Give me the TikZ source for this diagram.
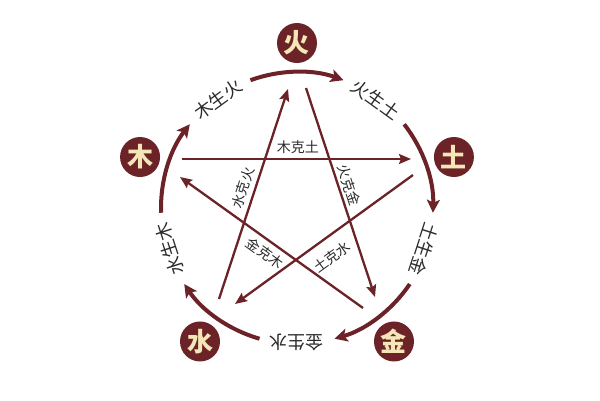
\documentclass[tikz,border=0pt]{standalone}
\usepackage{fontspec}
\newfontfamily\cjk{Noto Sans CJK SC}
\usetikzlibrary{arrows.meta}
\definecolor{wxred}{HTML}{6B2328}
\definecolor{wxcream}{HTML}{F5E6B8}
\definecolor{wxtxt}{HTML}{2B2B2B}
\begin{document}
\begin{tikzpicture}[x=1pt,y=1pt,
  elem/.style={circle,fill=wxred,minimum size=40pt,inner sep=0pt,text=wxcream,font=\cjk\bfseries\fontsize{26}{26}\selectfont},
  genlabel/.style={text=wxtxt,font=\cjk\fontsize{18}{18}\selectfont,inner sep=0pt},
  kelabel/.style={text=wxtxt,font=\cjk\fontsize{14}{14}\selectfont,inner sep=0pt},
  genarrow/.style={draw=wxred,line width=4pt,-{Stealth[length=13pt,width=13pt,inset=3pt]}},
  kearrow/.style={draw=wxred,line width=2.3pt,-{Stealth[length=12pt,width=10pt,inset=2pt]}}]
\useasboundingbox[fill=white] (-297,-192) rectangle (303,208);

% element nodes
\node[elem] (huo) at (90:165) {火};
\node[elem] (mu) at (162:165) {木};
\node[elem] (tu) at (18:165) {土};
\node[elem] (jin) at (-54:165) {金};
\node[elem] (shui) at (-126:165) {水};

% generating cycle labels
\node[genlabel,rotate=36] (lmh) at (126:134) {木生火};
\node[genlabel,rotate=-36] (lht) at (54:134) {火生土};
\node[genlabel,rotate=-108] (ltj) at (-18:134) {土生金};
\node[genlabel,rotate=180] (ljs) at (-90:134) {金生水};
\node[genlabel,rotate=108] (lsm) at (-162:134) {水生木};

% generating arcs
\coordinate (a1) at (182:136);
\coordinate (a2) at (110:136);
\coordinate (a3) at (38:136);
\coordinate (a4) at (-34:136);
\coordinate (a5) at (-106:136);
\draw[genarrow] (a1) arc[start angle=182,end angle=142,radius=136pt];
\draw[genarrow] (a2) arc[start angle=110,end angle=70,radius=136pt];
\draw[genarrow] (a3) arc[start angle=38,end angle=-2,radius=136pt];
\draw[genarrow] (a4) arc[start angle=-34,end angle=-74,radius=136pt];
\draw[genarrow] (a5) arc[start angle=-106,end angle=-146,radius=136pt];

% controlling star
\coordinate (s1) at (-78,-91);  \coordinate (t1) at (-9,119);
\coordinate (s2) at (9,120);    \coordinate (t2) at (78,-89);
\coordinate (s3) at (-115,49);  \coordinate (t3) at (114,49);
\coordinate (s4) at (116,33);   \coordinate (t4) at (-62,-96);
\coordinate (s5) at (66,-100);  \coordinate (t5) at (-117,31);
\draw[kearrow] (s1) -- (t1);
\draw[kearrow] (s2) -- (t2);
\draw[kearrow] (s3) -- (t3);
\draw[kearrow] (s4) -- (t4);
\draw[kearrow] (s5) -- (t5);

\node[kelabel,rotate=72] (kshui) at (-54,20) {水克火};
\node[kelabel,rotate=-72] (khuo) at (52,23) {火克金};
\node[kelabel] (kmu) at (1,61) {木克土};
\node[kelabel,rotate=36] (ktu) at (35,-49) {土克水};
\node[kelabel,rotate=-36] (kjin) at (-32,-45) {金克木};
\end{tikzpicture}
\end{document}
